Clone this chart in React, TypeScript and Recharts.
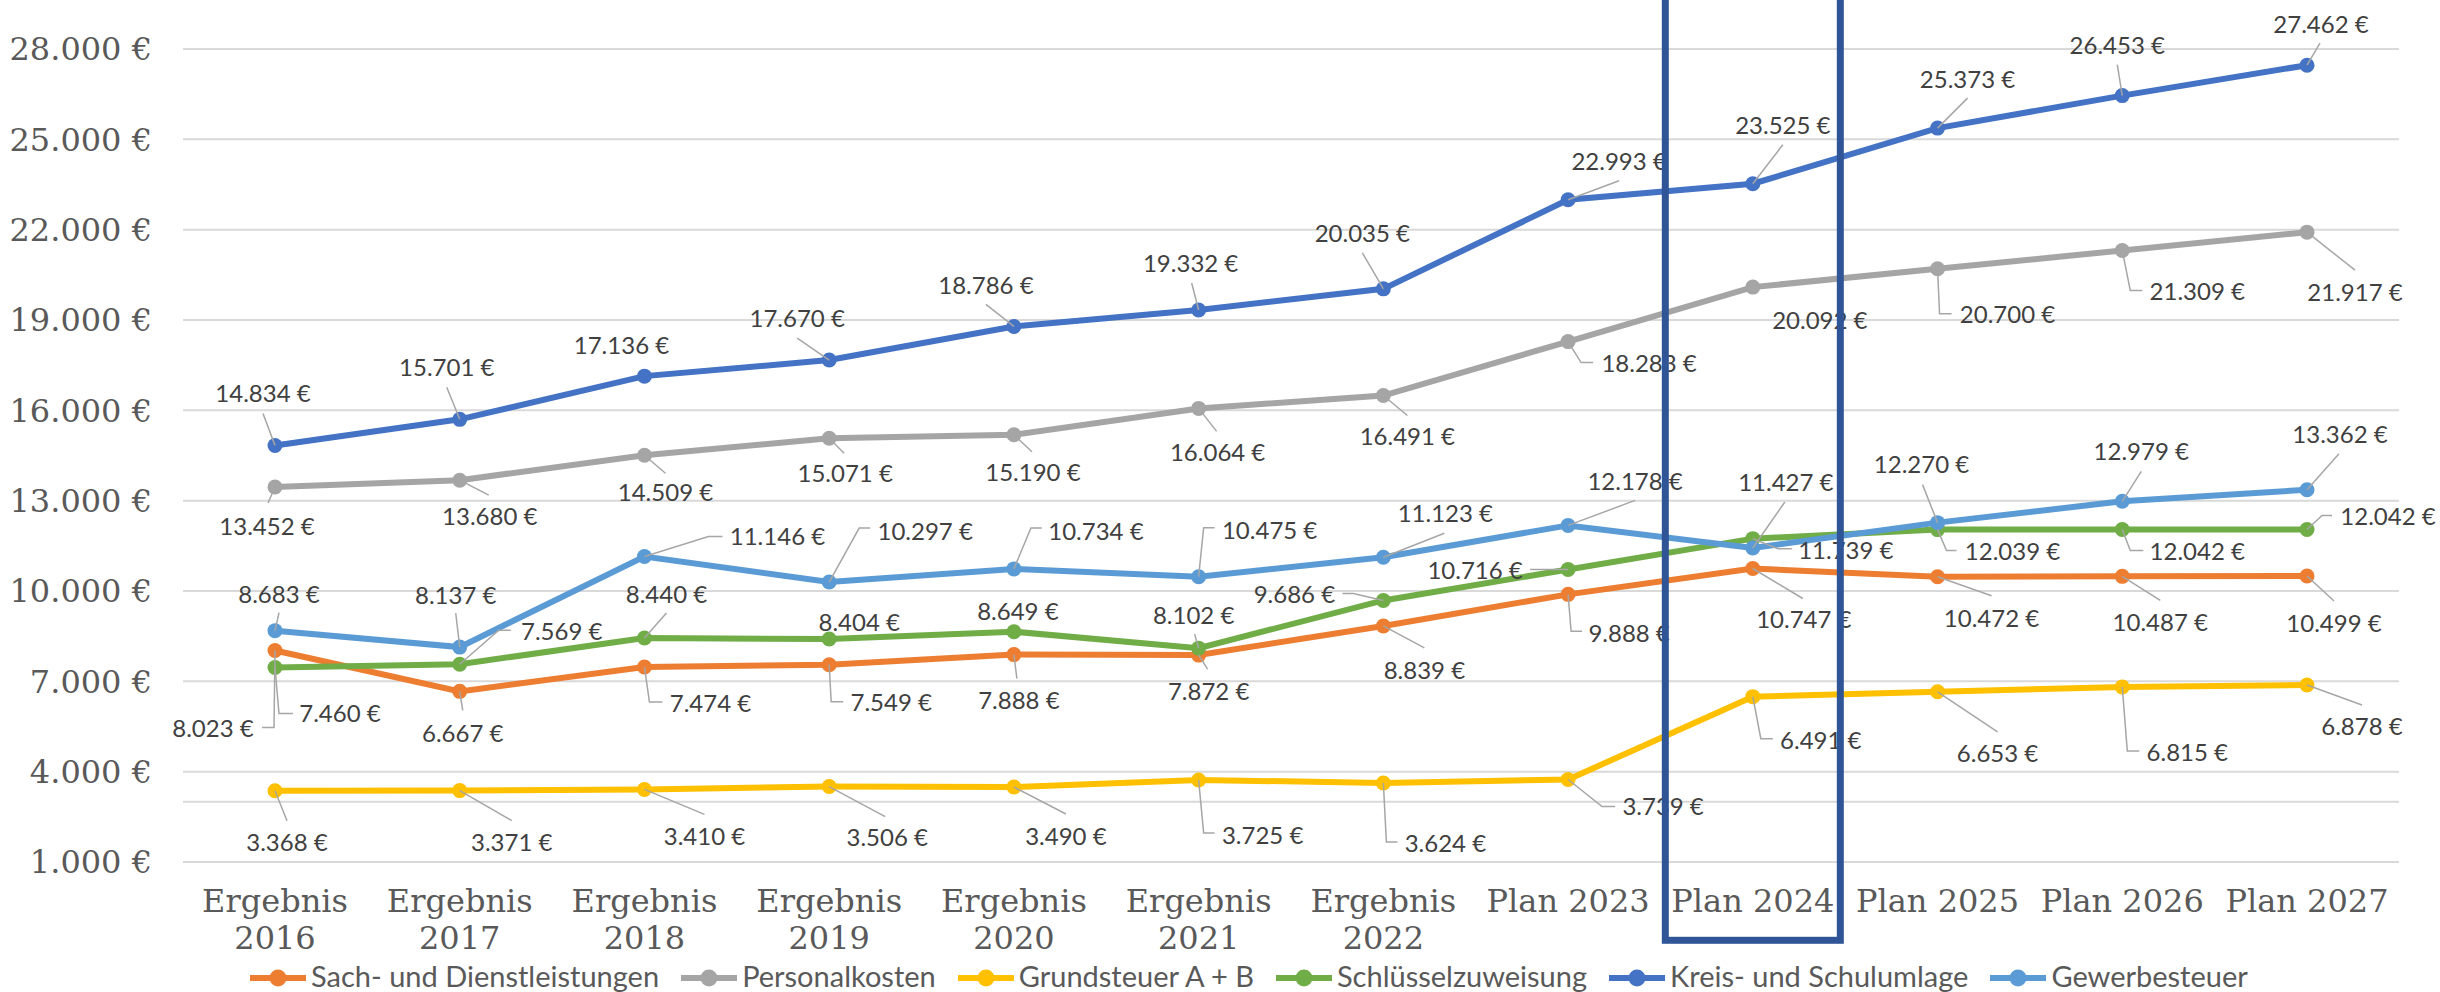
import React from 'react';
import {
  LineChart,
  Line,
  XAxis,
  YAxis,
  CartesianGrid,
  Legend,
  ReferenceArea,
  ReferenceLine,
  LabelList,
} from 'recharts';

// ---------- data ----------
const categories = [
  'Ergebnis 2016',
  'Ergebnis 2017',
  'Ergebnis 2018',
  'Ergebnis 2019',
  'Ergebnis 2020',
  'Ergebnis 2021',
  'Ergebnis 2022',
  'Plan 2023',
  'Plan 2024',
  'Plan 2025',
  'Plan 2026',
  'Plan 2027',
];

const sachUndDienstleistungen = [8023, 6667, 7474, 7549, 7888, 7872, 8839, 9888, 10747, 10472, 10487, 10499];
const personalkosten = [13452, 13680, 14509, 15071, 15190, 16064, 16491, 18283, 20092, 20700, 21309, 21917];
const grundsteuer = [3368, 3371, 3410, 3506, 3490, 3725, 3624, 3739, 6491, 6653, 6815, 6878];
const schluesselzuweisung = [7460, 7569, 8440, 8404, 8649, 8102, 9686, 10716, 11739, 12039, 12042, 12042];
const kreisUndSchulumlage = [14834, 15701, 17136, 17670, 18786, 19332, 20035, 22993, 23525, 25373, 26453, 27462];
const gewerbesteuer = [8683, 8137, 11146, 10297, 10734, 10475, 11123, 12178, 11427, 12270, 12979, 13362];

const yTicks = [1000, 4000, 7000, 10000, 13000, 16000, 19000, 22000, 25000, 28000];
const highlightCategory = 'Plan 2024';

// ---------- label layout (offset of label from its point, then leader-line points, px) ----------
const sachLayout = [
  [-62, 78, -13, 77, -1, 77],
  [3, 42, 3, 19],
  [66, 36, 18, 35, 5, 35],
  [62, 38, 14, 37, 2, 37],
  [5, 46, 3, 24],
  [10, 36, 9, 14],
  [41, 44, 41, 22],
  [61, 39, 14, 37, 3, 37],
  [51, 51, 50, 30],
  [54, 42, 54, 19],
  [38, 46, 38, 24],
  [27, 47, 27, 25],
];
const personalLayout = [
  [-8, 39, -7, 16],
  [30, 36, 29, 15],
  [21, 37, 21, 18],
  [16, 35, 15, 15],
  [19, 38, 18, 17],
  [19, 44, 18, 23],
  [24, 41, 24, 20],
  [81, 22, 25, 21, 13, 21],
  [67, 33],
  [70, 46, 14, 45, 2, 45],
  [75, 41, 20, 40, 8, 40],
  [48, 60, 48, 38],
];
const grundLayout = [
  [12, 52, 12, 30],
  [52, 52, 52, 30],
  [60, 47, 60, 25],
  [58, 51, 56, 30],
  [52, 49, 52, 27],
  [64, 55, 16, 53, 5, 53],
  [62, 60, 14, 59, 3, 59],
  [95, 27, 47, 27, 34, 27],
  [68, 44, 20, 42, 8, 42],
  [60, 62, 60, 40],
  [65, 65, 17, 64, 5, 64],
  [55, 41, 55, 20],
];
const schluesselLayout = [
  [65, 46, 18, 46, 4, 46],
  [102, -33, 51, -34, 39, -34],
  [22, -44, 22, -25],
  [30, -17],
  [4, -20],
  [-5, -33, -4, -14],
  [-89, -6, -41, -7, -30, -7],
  [-93, 1, -38, 0],
  [93, 12, 39, 10, 25, 10],
  [75, 22, 19, 21, 9, 21],
  [75, 22, 21, 21, 8, 21],
  [81, -13, 25, -14, 15, -14],
];
const kreisLayout = [
  [-12, -52, -12, -32],
  [-13, -52, -13, -32],
  [-23, -31],
  [-32, -42, -32, -22],
  [-28, -41, -28, -22],
  [-8, -47, -7, -27],
  [-21, -55, -21, -36],
  [51, -38, 51, -19],
  [30, -58, 30, -39],
  [30, -49, 30, -30],
  [-5, -50, -5, -31],
  [14, -41, 13, -22],
];
const gewerbeLayout = [
  [4, -36, 4, -18],
  [-4, -52, -4, -34],
  [133, -20, 78, -20, 64, -20],
  [96, -51, 41, -54, 30, -54],
  [82, -38, 28, -41, 17, -41],
  [71, -46, 16, -49, 5, -49],
  [62, -44, 61, -24],
  [67, -44, 67, -25],
  [33, -66, 32, -46],
  [-16, -58, -15, -38],
  [19, -50, 19, -30],
  [33, -55, 32, -36],
];

const series = [
  { key: 'sach', name: 'Sach- und Dienstleistungen', color: '#ED7D31', values: sachUndDienstleistungen, layout: sachLayout },
  { key: 'personal', name: 'Personalkosten', color: '#A5A5A5', values: personalkosten, layout: personalLayout },
  { key: 'grund', name: 'Grundsteuer A + B', color: '#FFC000', values: grundsteuer, layout: grundLayout },
  { key: 'schluessel', name: 'Schlüsselzuweisung', color: '#70AD47', values: schluesselzuweisung, layout: schluesselLayout },
  { key: 'kreis', name: 'Kreis- und Schulumlage', color: '#4472C4', values: kreisUndSchulumlage, layout: kreisLayout },
  { key: 'gewerbe', name: 'Gewerbesteuer', color: '#5B9BD5', values: gewerbesteuer, layout: gewerbeLayout },
];

const rows = categories.map((cat, i) => {
  const r: Record<string, any> = { cat };
  series.forEach((s) => {
    r[s.key] = s.values[i];
  });
  return r;
});

const fmt = (v: number) => String(Math.round(v)).replace(/\B(?=(\d{3})+(?!\d))/g, '.') + ' €';

const LABEL_FONT = 'Lato, "Noto Sans", sans-serif';
const AXIS_FONT = '"DejaVu Serif", serif';

const makeLabel = (layout: number[][]) => (props: any) => {
  const x = props.x ?? props.viewBox?.x;
  const y = props.y ?? props.viewBox?.y;
  const index = props.index;
  const spec = layout[index];
  if (x == null || y == null || !spec) return null;
  const [dx, dy, ...lead] = spec;
  const pts: string[] = [];
  for (let i = 0; i + 1 < lead.length; i += 2) pts.push(`${x + lead[i]},${y + lead[i + 1]}`);
  if (pts.length) pts.push(`${x},${y}`);
  return (
    <g>
      {pts.length > 0 && (
        <polyline points={pts.join(' ')} fill="none" stroke="#A6A6A6" strokeWidth={1.5} />
      )}
      <text
        x={x + dx}
        y={y + dy}
        dy="0.36em"
        textAnchor="middle"
        fill="#404040"
        fontFamily={LABEL_FONT}
        fontSize={24}
      >
        {fmt(props.value)}
      </text>
    </g>
  );
};

const XTick = (props: any) => {
  const { x, y, payload } = props;
  const v: string = String(payload.value);
  const lines = v.startsWith('Ergebnis ') ? ['Ergebnis', v.slice(9)] : [v];
  return (
    <text x={x} y={y + 50} textAnchor="middle" fill="#595959" fontFamily={AXIS_FONT} fontSize={32}>
      {lines.map((t, i) => (
        <tspan key={i} x={x} dy={i === 0 ? 0 : 36.7}>
          {t}
        </tspan>
      ))}
    </text>
  );
};

const LegendContent = () => (
  <div
    style={{
      display: 'flex',
      justifyContent: 'flex-start',
      alignItems: 'center',
      paddingLeft: 250,
      fontFamily: LABEL_FONT,
      fontSize: 29,
      lineHeight: '30px',
      color: '#595959',
      whiteSpace: 'nowrap',
    }}
  >
    {series.map((s, i) => (
      <div key={s.key} style={{ display: 'flex', alignItems: 'center', marginLeft: i === 0 ? 0 : 22 }}>
        <svg width={56} height={20} style={{ marginRight: 5, marginTop: 4 }}>
          <line x1={0} y1={10} x2={56} y2={10} stroke={s.color} strokeWidth={6} />
          <circle cx={28} cy={10} r={8.5} fill={s.color} />
        </svg>
        <span>{s.name}</span>
      </div>
    ))}
  </div>
);

export default function App() {
  return (
    <div style={{ width: 2440, height: 992, position: 'relative', background: '#fff', overflow: 'hidden' }}>
      <style>{'body{margin:0;}'}</style>
      <LineChart width={2440} height={992} data={rows} margin={{ top: 49, right: 41, bottom: 0, left: 0 }}>
        <CartesianGrid vertical={false} stroke="#D9D9D9" strokeWidth={2} />
        <ReferenceLine y={3000} stroke="#D9D9D9" strokeWidth={2} />
        <XAxis
          dataKey="cat"
          interval={0}
          axisLine={false}
          tickLine={false}
          tickSize={0}
          tickMargin={0}
          height={130}
          padding={{ left: 92, right: 92 }}
          tick={<XTick />}
        />
        <YAxis
          width={183}
          domain={[1000, 28000]}
          ticks={yTicks}
          interval={0}
          axisLine={false}
          tickLine={false}
          tickSize={0}
          tickMargin={31}
          tickFormatter={fmt}
          tick={{ fill: '#595959', fontSize: 32, fontFamily: AXIS_FONT }}
        />
        {series.map((s) => (
          <Line
            key={s.key}
            dataKey={s.key}
            name={s.name}
            stroke={s.color}
            strokeWidth={6}
            dot={{ r: 7.5, fill: s.color, stroke: s.color, strokeWidth: 0 }}
            activeDot={false}
            isAnimationActive={false}
          >
            <LabelList dataKey={s.key} content={makeLabel(s.layout)} />
          </Line>
        ))}
        <Legend
          layout="horizontal"
          verticalAlign="middle"
          align="center"
          wrapperStyle={{ top: 961, left: 0, width: 2440 }}
          content={<LegendContent />}
        />
        <ReferenceArea
          x1={highlightCategory}
          x2={highlightCategory}
          y1={-1600}
          y2={30500}
          ifOverflow="visible"
          zIndex={3000}
          shape={(p: any) => (
            <rect
              x={p.x - 87.5}
              y={p.y}
              width={175}
              height={p.height}
              fill="none"
              stroke="#2F5597"
              strokeWidth={7}
            />
          )}
        />
      </LineChart>
    </div>
  );
}
